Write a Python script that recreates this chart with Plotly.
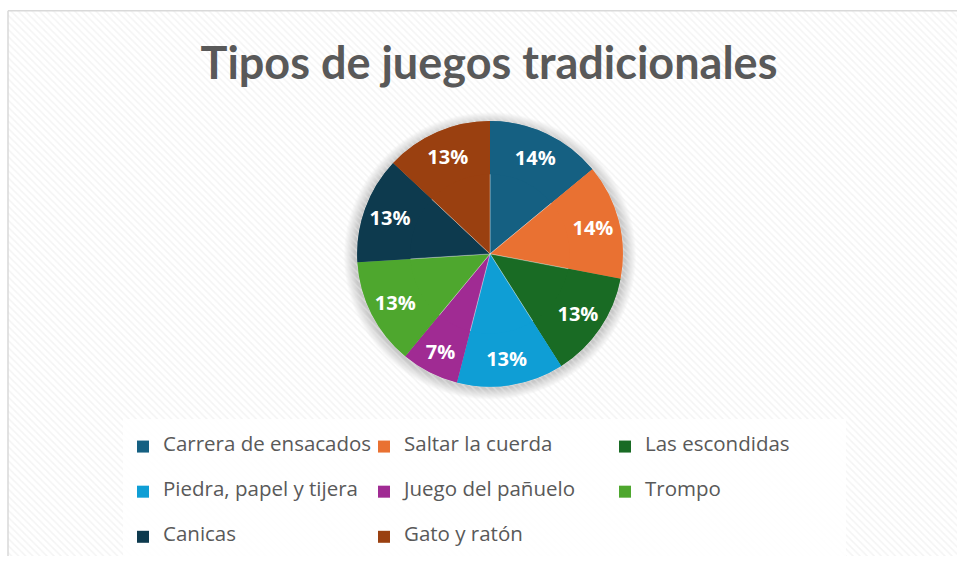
import plotly.graph_objects as go

# ---- data ----
categories = ["Carrera de ensacados", "Saltar la cuerda", "Las escondidas",
              "Piedra, papel y tijera", "Juego del pañuelo", "Trompo",
              "Canicas", "Gato y ratón"]
percent_values = [14, 14, 13, 13, 7, 13, 13, 13]
slice_colors = ["#156082", "#E97132", "#196B24", "#0F9ED5",
                "#A02B93", "#4EA72E", "#0D3A4E", "#9A4010"]
title_text = "Tipos de juegos tradicionales"

W, H = 957, 565
# pie placement (pixels)
cx, cy, R = 490, 258, 135

legend_labels = [" <br><span style='font-size:20.5px'>%s</span><br> " % c for c in categories]
pie_domain = dict(x=[(cx - R) / W, (cx + R) / W], y=[1 - (cy + R) / H, 1 - (cy - R) / H])

fig = go.Figure()

# hatched chart-area background
fig.add_trace(go.Scatter(
    x=[8, W, W, 8, 8], y=[11, 11, H, H, 11],
    fill="toself", mode="lines", line=dict(width=0),
    fillcolor="rgba(0,0,0,0)",
    fillpattern=dict(shape="\\", fgcolor="#e9e9e9", size=5, solidity=0.3),
    hoverinfo="skip", showlegend=False,
))

# solid base pie (fills the centre)
fig.add_trace(go.Pie(
    labels=legend_labels, values=percent_values, sort=False,
    direction="clockwise", rotation=0,
    marker=dict(colors=slice_colors, line=dict(color="rgba(255,255,255,0.5)", width=0.6)),
    textinfo="none", hoverinfo="skip", showlegend=False,
    domain=pie_domain,
))
# labelled pie (hole pushes the labels outward)
fig.add_trace(go.Pie(
    labels=legend_labels, values=percent_values, sort=False,
    direction="clockwise", rotation=0, hole=0.6,
    marker=dict(colors=slice_colors, line=dict(width=0)),
    texttemplate="%{percent:.0%}",
    textposition="inside",
    insidetextorientation="horizontal",
    textfont=dict(family="Open Sans", size=20, color="white", weight="bold"),
    domain=pie_domain,
    hoverinfo="label+percent",
))

shapes = []
# soft glow around pie
for k in range(1, 12):
    shapes.append(dict(type="circle", layer="below", xref="x", yref="y",
                       x0=cx - R - k, x1=cx + R + k, y0=cy - R - k + 2, y1=cy + R + k + 2,
                       fillcolor="rgba(0,0,0,0.018)", line=dict(width=0)))
# chart border (left/top)
shapes.append(dict(type="line", xref="x", yref="y", x0=8, x1=8, y0=11, y1=H,
                   line=dict(color="#d9d9d9", width=1.5)))
shapes.append(dict(type="line", xref="x", yref="y", x0=8, x1=W, y0=11, y1=11,
                   line=dict(color="#d9d9d9", width=1.5)))

fig.update_layout(
    width=W, height=H,
    margin=dict(l=0, r=0, t=0, b=0),
    paper_bgcolor="white", plot_bgcolor="rgba(0,0,0,0)",
    xaxis=dict(range=[0, W], visible=False, fixedrange=True, domain=[0, 1]),
    yaxis=dict(range=[H, 0], visible=False, fixedrange=True, domain=[0, 1]),
    shapes=shapes,
    title=dict(text=title_text, x=489 / W, xanchor="center", y=1 - 63 / H, yanchor="middle",
               font=dict(family="Lato", size=45, color="#595959", weight="bold")),
    legend=dict(orientation="h", x=123 / W, xanchor="left", y=1 - 426 / H, yanchor="top",
                bgcolor="rgba(255,255,255,0.85)", borderwidth=0,
                font=dict(family="Open Sans", size=10.8, color="#595959"),
                entrywidth=196, entrywidthmode="pixels", valign="middle",
                traceorder="normal"),
    showlegend=True,
)

fig.write_html(
    "out.html",
    config={"displayModeBar": False},
    post_script=(
        "document.documentElement.style.overflow='hidden';"
        "document.body.style.margin='0';document.body.style.overflow='hidden';"
        "var gd=document.getElementById('{plot_id}');"
        "gd.style.position='fixed';gd.style.left='0px';gd.style.top='0px';"
    ),
)
